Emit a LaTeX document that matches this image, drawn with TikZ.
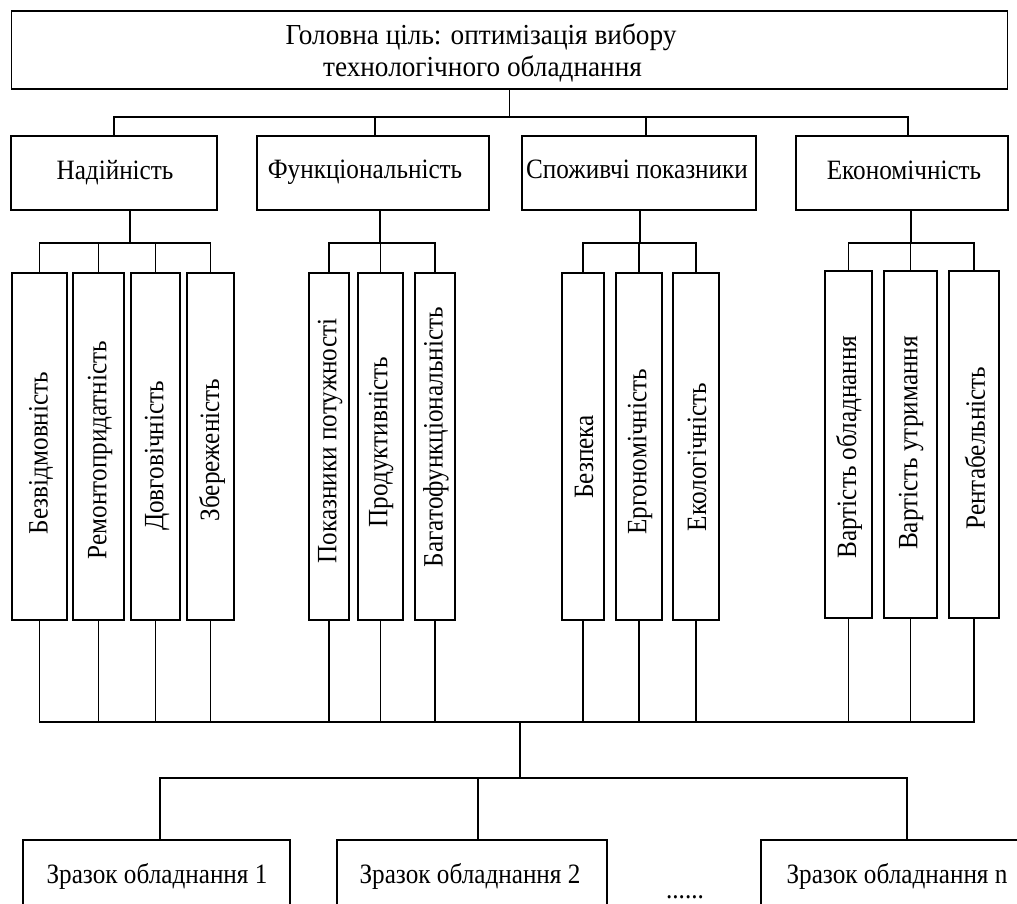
\documentclass[tikz,border=0pt]{standalone}
\usepackage{fontspec}
\setmainfont{Liberation Serif}[FakeStretch=0.9]
\newfontfamily\goalfont{Liberation Serif}[FakeStretch=0.94]
\begin{document}
\begin{tikzpicture}[x=1pt,y=-1pt,
  box/.style={draw, line width=1.4pt, inner sep=0pt, outer sep=0pt},
  conn/.style={line width=1.4pt, line cap=rect},
  txt/.style={inner sep=0pt, font=\fontsize{28}{32}\selectfont},
  gtxt/.style={inner sep=0pt, anchor=base, font=\goalfont\fontsize{29}{32}\selectfont},
  vtxt/.style={txt, rotate=90},
  leafA/.style={box, minimum height=347},
]
\useasboundingbox (0,0) rectangle (1017,903);
% goal
\node[box, minimum width=996, minimum height=78] (goal) at (509.5,50) {};
\node[gtxt] (goaltxt1) at (481,44) {Головна ціль: оптимізація вибору};
\node[gtxt] (goaltxt2) at (482.5,76) {технологічного обладнання};
% level 2
\node[box, minimum width=206, minimum height=74] (n1) at (114,173) {};
\node[box, minimum width=232, minimum height=74] (n2) at (373,173) {};
\node[box, minimum width=234, minimum height=74] (n3) at (639,173) {};
\node[box, minimum width=212, minimum height=74] (n4) at (902,173) {};
\node[txt, anchor=base] (n1t) at (115,179) {Надійність};
\node[txt, anchor=base] (n2t) at (365,178) {Функціональність};
\node[txt, anchor=base] (n3t) at (637,178) {Споживчі показники};
\node[txt, anchor=base] (n4t) at (904,179) {Економічність};
% leaves group 1
\node[leafA, minimum width=55] (a1) at (39.5,446.5) {};
\node[leafA, minimum width=51] (a2) at (98.5,446.5) {};
\node[leafA, minimum width=49] (a3) at (155.5,446.5) {};
\node[leafA, minimum width=47] (a4) at (210.5,446.5) {};
% group 2
\node[leafA, minimum width=40] (b1) at (329,446.5) {};
\node[leafA, minimum width=45] (b2) at (380.5,446.5) {};
\node[leafA, minimum width=40] (b3) at (435,446.5) {};
% group 3
\node[leafA, minimum width=42] (c1) at (583,446.5) {};
\node[leafA, minimum width=46] (c2) at (639,446.5) {};
\node[leafA, minimum width=46] (c3) at (696,446.5) {};
% group 4
\node[leafA, minimum width=47] (d1) at (848.5,444.5) {};
\node[leafA, minimum width=53] (d2) at (910.5,444.5) {};
\node[leafA, minimum width=50] (d3) at (974,444.5) {};
% leaf texts
\node[vtxt] (a1t) at (41,453) {Безвідмовність};
\node[vtxt] (a2t) at (100,450) {Ремонтопридатність};
\node[vtxt] (a3t) at (157,456) {Довговічність};
\node[vtxt] (a4t) at (212,450) {Збереженість};
\node[vtxt] (b1t) at (330,441) {Показники потужності};
\node[vtxt] (b2t) at (381,442) {Продуктивність};
\node[vtxt] (b3t) at (436,437) {Багатофункціональність};
\node[vtxt] (c1t) at (584,457) {Безпека};
\node[vtxt] (c2t) at (640,452) {Ергономічність};
\node[vtxt] (c3t) at (697,457) {Екологічність};
\node[vtxt] (d1t) at (849,447) {Вартість обладнання};
\node[vtxt] (d2t) at (911,443) {Вартість утримання};
\node[vtxt] (d3t) at (975,448) {Рентабельність};
% bottom
\node[box, minimum width=267, minimum height=70] (e1) at (156.5,875) {};
\node[box, minimum width=270, minimum height=70] (e2) at (472,875) {};
\node[box, minimum width=268, minimum height=70] (e3) at (895,875) {};
\node[txt, anchor=base] (e1t) at (157,883) {Зразок обладнання 1};
\node[txt, anchor=base] (e2t) at (470,883) {Зразок обладнання 2};
\node[txt, anchor=base] (e3t) at (897,883) {Зразок обладнання n};
\node[txt, anchor=base] (dots) at (685,898) {......};
% connectors top
\coordinate (t1) at (114,117);
\coordinate (t2) at (375,117);
\coordinate (t3) at (646,117);
\coordinate (t4) at (908,117);
\draw[conn] (goal.south) -- (goal.south |- t1);
\draw[conn] (t1) -- (t4);
\draw[conn] (t1) -- (t1 |- n1.north);
\draw[conn] (t2) -- (t2 |- n2.north);
\draw[conn] (t3) -- (t3 |- n3.north);
\draw[conn] (t4) -- (t4 |- n4.north);
% groups
\coordinate (g1) at (130,243);
\coordinate (g2) at (380,243);
\coordinate (g3) at (640,243);
\coordinate (g4) at (911,243);
\draw[conn] (g1 |- n1.south) -- (g1);
\draw[conn] (g2 |- n2.south) -- (g2);
\draw[conn] (g3 |- n3.south) -- (g3);
\draw[conn] (g4 |- n4.south) -- (g4);
\draw[conn] (a1.north |- g1) -- (a4.north |- g1);
\draw[conn] (b1.north |- g2) -- (b3.north |- g2);
\draw[conn] (c1.north |- g3) -- (c3.north |- g3);
\draw[conn] (d1.north |- g4) -- (d3.north |- g4);
\foreach \l/\g in {a1/g1,a2/g1,a3/g1,a4/g1,b1/g2,b2/g2,b3/g2,c1/g3,c2/g3,c3/g3,d1/g4,d2/g4,d3/g4}
  \draw[conn] (\l.north) -- (\l.north |- \g);
% bottom bar
\coordinate (m) at (520,722);
\foreach \l in {a1,a2,a3,a4,b1,b2,b3,c1,c2,c3,d1,d2,d3}
  \draw[conn] (\l.south) -- (\l.south |- m);
\draw[conn] (a1.south |- m) -- (d3.south |- m);
\coordinate (k) at (520,778);
\draw[conn] (m) -- (k);
\coordinate (k1) at (160,778);
\coordinate (k2) at (478,778);
\coordinate (k3) at (907,778);
\draw[conn] (k1) -- (k3);
\draw[conn] (k1) -- (k1 |- e1.north);
\draw[conn] (k2) -- (k2 |- e2.north);
\draw[conn] (k3) -- (k3 |- e3.north);
\end{tikzpicture}
\end{document}
